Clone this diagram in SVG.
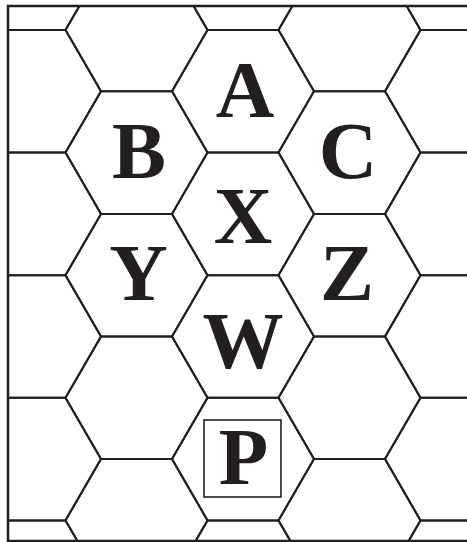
<svg xmlns="http://www.w3.org/2000/svg" xmlns:xlink="http://www.w3.org/1999/xlink" width="467" height="542" viewBox="0 0 467 542">
  <style>
    .hex { fill: none; stroke: #231f20; stroke-width: 2; stroke-linejoin: miter; }
    .frame { fill: none; stroke: #231f20; stroke-width: 2.5; }
    .lbl { font-family: "Liberation Serif", "Times New Roman", serif; font-weight: bold; font-size: 81px; fill: #231f20; text-anchor: middle; }
    .box { fill: none; stroke: #231f20; stroke-width: 1.6; }
  </style>
  <defs>
    <polygon id="h" points="71,0 35.5,61.3 -35.5,61.3 -71,0 -35.5,-61.3 35.5,-61.3"/>
    <clipPath id="clip">
      <rect x="8" y="6" width="462" height="535"/>
    </clipPath>
  </defs>
  <rect width="467" height="542" fill="#ffffff"/>
  <g id="grid" class="hex" clip-path="url(#clip)">
    <use xlink:href="#h" x="30" y="-31.3"/>
    <use xlink:href="#h" x="30" y="91.3"/>
    <use xlink:href="#h" x="30" y="213.9"/>
    <use xlink:href="#h" x="30" y="336.5"/>
    <use xlink:href="#h" x="30" y="459.1"/>
    <use xlink:href="#h" x="30" y="581.7"/>
    <use xlink:href="#h" x="136.5" y="30"/>
    <use xlink:href="#h" x="136.5" y="152.6"/>
    <use xlink:href="#h" x="136.5" y="275.2"/>
    <use xlink:href="#h" x="136.5" y="397.8"/>
    <use xlink:href="#h" x="136.5" y="520.4"/>
    <use xlink:href="#h" x="243" y="-31.3"/>
    <use xlink:href="#h" x="243" y="91.3"/>
    <use xlink:href="#h" x="243" y="213.9"/>
    <use xlink:href="#h" x="243" y="336.5"/>
    <use xlink:href="#h" x="243" y="459.1"/>
    <use xlink:href="#h" x="243" y="581.7"/>
    <use xlink:href="#h" x="349.5" y="30"/>
    <use xlink:href="#h" x="349.5" y="152.6"/>
    <use xlink:href="#h" x="349.5" y="275.2"/>
    <use xlink:href="#h" x="349.5" y="397.8"/>
    <use xlink:href="#h" x="349.5" y="520.4"/>
    <use xlink:href="#h" x="456" y="-31.3"/>
    <use xlink:href="#h" x="456" y="91.3"/>
    <use xlink:href="#h" x="456" y="213.9"/>
    <use xlink:href="#h" x="456" y="336.5"/>
    <use xlink:href="#h" x="456" y="459.1"/>
    <use xlink:href="#h" x="456" y="581.7"/>
  </g>
  <path class="frame" d="M468,6 H8 V541 H468"/>
  <g id="node-A"><text class="lbl" x="245" y="117">A</text></g>
  <g id="node-B"><text class="lbl" x="139" y="177.5">B</text></g>
  <g id="node-C"><text class="lbl" x="348" y="177.5">C</text></g>
  <g id="node-X"><text class="lbl" x="243" y="242.5">X</text></g>
  <g id="node-Y"><text class="lbl" x="138.5" y="300">Y</text></g>
  <g id="node-Z"><text class="lbl" x="347" y="300">Z</text></g>
  <g id="node-W"><text class="lbl" x="243" y="368">W</text></g>
  <g id="node-P">
    <rect class="box" x="204" y="420" width="77" height="77"/>
    <text class="lbl" x="243.5" y="483.5">P</text>
  </g>
</svg>
